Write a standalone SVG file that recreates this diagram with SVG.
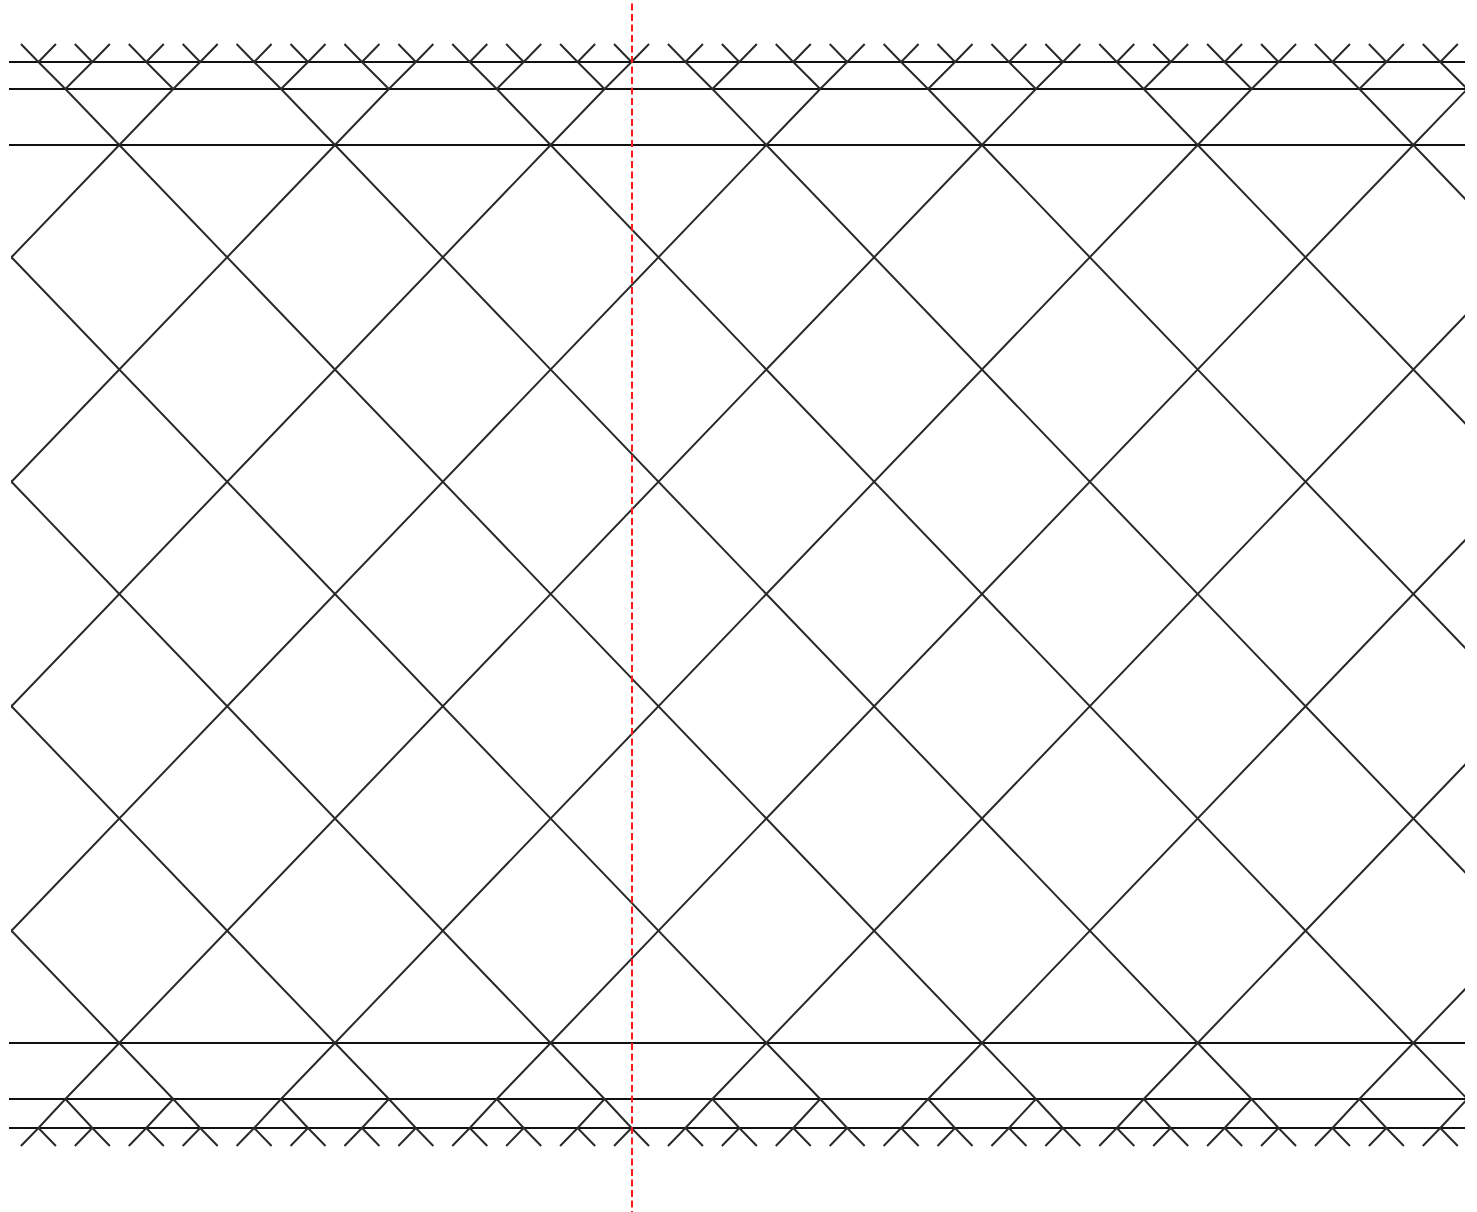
<svg xmlns="http://www.w3.org/2000/svg" xmlns:xlink="http://www.w3.org/1999/xlink" width="1477" height="1212" viewBox="0 0 1477 1212">
  <style>
    .diag { fill: none; stroke: #2a2a2a; stroke-width: 2; stroke-linejoin: round; }
    .hline { fill: none; stroke: #111; stroke-width: 2.2; }
    .axis { fill: none; stroke: #ff1a1a; stroke-width: 2; stroke-dasharray: 7 3.5; }
  </style>
  <defs>
    <clipPath id="band">
      <rect x="11" y="0" width="1454" height="1212"/>
    </clipPath>
    <path id="treeTop" class="diag" d="M-53.92,-56 L0,0 L53.92,-56 M-80.88,-83 L-53.92,-56 L-26.96,-83 M26.96,-83 L53.92,-56 L80.88,-83 M-98.38,-101 L-80.88,-83 L-63.38,-101 M-44.46,-101 L-26.96,-83 L-9.46,-101 M9.46,-101 L26.96,-83 L44.46,-101 M63.38,-101 L80.88,-83 L98.38,-101"/>
    <path id="treeBottom" class="diag" d="M-53.92,56 L0,0 L53.92,56 M-80.88,85 L-53.92,56 L-26.96,85 M26.96,85 L53.92,56 L80.88,85 M-98.38,103 L-80.88,85 L-63.38,103 M-44.46,103 L-26.96,85 L-9.46,103 M9.46,103 L26.96,85 L44.46,103 M63.38,103 L80.88,85 L98.38,103"/>
  </defs>
  <rect x="0" y="0" width="1477" height="1212" fill="#ffffff"/>

  <g id="horizontals">
    <path class="hline" d="M9,62 H1465 M9,89 H1465 M9,145 H1465 M9,1043 H1465 M9,1099 H1465 M9,1128 H1465"/>
  </g>

  <g id="lattice" clip-path="url(#band)">
    <path class="diag" d="M-743.38,145 L119.3,1043 M-527.71,145 L334.97,1043 M-312.04,145 L550.64,1043 M-96.37,145 L766.31,1043 M119.3,145 L981.98,1043 M334.97,145 L1197.65,1043 M550.64,145 L1413.32,1043 M766.31,145 L1628.99,1043 M981.98,145 L1844.66,1043 M1197.65,145 L2060.33,1043 M1413.32,145 L2276,1043"/>
    <path class="diag" d="M119.3,145 L-743.38,1043 M334.97,145 L-527.71,1043 M550.64,145 L-312.04,1043 M766.31,145 L-96.37,1043 M981.98,145 L119.3,1043 M1197.65,145 L334.97,1043 M1413.32,145 L550.64,1043 M1628.99,145 L766.31,1043 M1844.66,145 L981.98,1043 M2060.33,145 L1197.65,1043 M2276,145 L1413.32,1043"/>
  </g>

  <g id="top-trees" clip-path="url(#band)">
    <use xlink:href="#treeTop" href="#treeTop" x="-96.37" y="145"/>
    <use xlink:href="#treeTop" href="#treeTop" x="119.3" y="145"/>
    <use xlink:href="#treeTop" href="#treeTop" x="334.97" y="145"/>
    <use xlink:href="#treeTop" href="#treeTop" x="550.64" y="145"/>
    <use xlink:href="#treeTop" href="#treeTop" x="766.31" y="145"/>
    <use xlink:href="#treeTop" href="#treeTop" x="981.98" y="145"/>
    <use xlink:href="#treeTop" href="#treeTop" x="1197.65" y="145"/>
    <use xlink:href="#treeTop" href="#treeTop" x="1413.32" y="145"/>
  </g>

  <g id="bottom-trees" clip-path="url(#band)">
    <use xlink:href="#treeBottom" href="#treeBottom" x="-96.37" y="1043"/>
    <use xlink:href="#treeBottom" href="#treeBottom" x="119.3" y="1043"/>
    <use xlink:href="#treeBottom" href="#treeBottom" x="334.97" y="1043"/>
    <use xlink:href="#treeBottom" href="#treeBottom" x="550.64" y="1043"/>
    <use xlink:href="#treeBottom" href="#treeBottom" x="766.31" y="1043"/>
    <use xlink:href="#treeBottom" href="#treeBottom" x="981.98" y="1043"/>
    <use xlink:href="#treeBottom" href="#treeBottom" x="1197.65" y="1043"/>
    <use xlink:href="#treeBottom" href="#treeBottom" x="1413.32" y="1043"/>
  </g>

  <g id="axis">
    <line class="axis" x1="632" y1="3.5" x2="632" y2="1212"/>
  </g>
</svg>
